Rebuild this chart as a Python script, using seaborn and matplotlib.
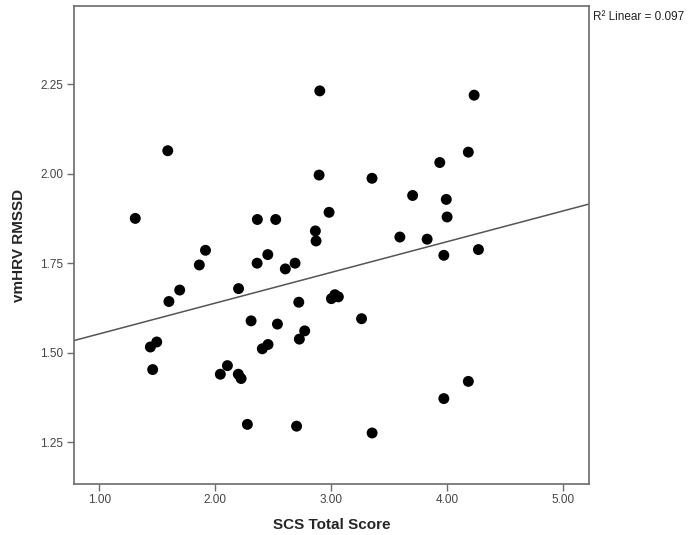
import numpy as np
import pandas as pd
import matplotlib
matplotlib.use('Agg')
import matplotlib.pyplot as plt
import seaborn as sns

# values
scs_total = [1.31, 1.59, 1.44, 1.495, 1.46, 1.60, 1.693, 1.862, 1.915, 2.043,
             2.104, 2.198, 2.222, 2.20, 2.276, 2.308, 2.36, 2.362, 2.452, 2.405,
             2.454, 2.52, 2.535, 2.603, 2.687, 2.719, 2.70, 2.724, 2.77, 2.862,
             2.868, 2.90, 2.894, 2.98, 3.00, 3.03, 3.06, 3.26, 3.35, 3.351,
             3.59, 3.70, 3.825, 3.934, 3.969, 3.969, 3.99, 3.997, 4.18, 4.18,
             4.23, 4.267]
vmhrv_rmssd = [1.875, 2.064, 1.516, 1.530, 1.453, 1.643, 1.675, 1.745, 1.786, 1.440,
               1.464, 1.440, 1.428, 1.679, 1.300, 1.589, 1.750, 1.872, 1.774, 1.511,
               1.523, 1.872, 1.580, 1.734, 1.750, 1.641, 1.295, 1.538, 1.561, 1.840,
               1.812, 2.231, 1.996, 1.892, 1.651, 1.662, 1.656, 1.595, 1.987, 1.276,
               1.823, 1.939, 1.817, 2.031, 1.772, 1.372, 1.928, 1.879, 2.060, 1.420,
               2.219, 1.788]

x_ticks = [1.00, 2.00, 3.00, 4.00, 5.00]
y_ticks = [1.25, 1.50, 1.75, 2.00, 2.25]
r2_text = "R\u00b2 Linear = 0.097"

df = pd.DataFrame({'scs': scs_total, 'rmssd': vmhrv_rmssd})

sns.set_style("white")
plt.rcParams['font.family'] = ['Liberation Sans', 'DejaVu Sans']

fig = plt.figure(figsize=(6.95, 5.35), dpi=100)
ax = fig.add_axes([0.1058, 0.0953, 0.7417, 0.8935])

# limits first so the fit line spans the whole frame
ax.set_xlim(0.778, 5.22)
ax.set_ylim(1.1335, 2.468)

sns.regplot(data=df, x='scs', y='rmssd', ax=ax, ci=None, truncate=False,
            scatter_kws={'s': 62, 'color': 'black', 'edgecolor': 'none', 'alpha': 1},
            line_kws={'color': '#555555', 'linewidth': 1.1})

ax.set_xlim(0.778, 5.22)
ax.set_ylim(1.1335, 2.468)
ax.set_xticks(x_ticks)
ax.set_xticklabels([f"{v:.2f}" for v in x_ticks])
ax.set_yticks(y_ticks)
ax.set_yticklabels([f"{v:.2f}" for v in y_ticks])

for side in ax.spines.values():
    side.set_color('#6b6b6b')
    side.set_linewidth(1.2)
ax.tick_params(axis='both', direction='out', length=5, width=1, color='#6b6b6b',
               labelsize=8.5, labelcolor='#444444', bottom=True, left=True, pad=2.5)

ax.set_xlabel('SCS Total Score', fontsize=11, fontweight='bold', labelpad=8)
ax.set_ylabel('vmHRV RMSSD', fontsize=11, fontweight='bold', labelpad=10)

fig.text(593 / 695, 1 - 17 / 535, r2_text, fontsize=8.5, color='#222222',
         ha='left', va='center')

fig.savefig('out.png', dpi=100)
